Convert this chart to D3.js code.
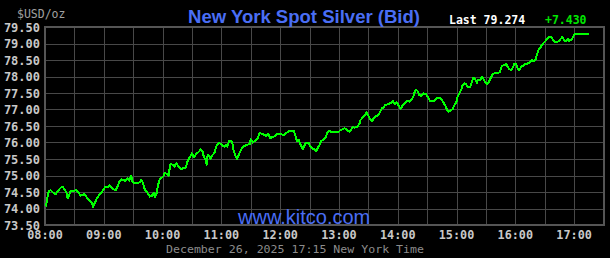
<!DOCTYPE html>
<html>
<head>
<meta charset="utf-8">
<script src="https://cdn.jsdelivr.net/npm/d3@7"></script>
<style>
    body { margin: 0; background: #000; }
    svg { display: block; }
</style>
</head>
<body>
<svg></svg>
<script>
// minutes after 08:00 and bid price
const minutes = [1, 2, 4, 6, 8, 11, 13, 16, 18, 20, 22, 23, 25, 26, 30, 32, 34, 36, 38, 40,
    42, 45, 47, 48, 49, 51, 53, 55, 58, 60, 61, 64, 66, 68, 70, 72, 74, 76, 78, 81,
    82, 84, 86, 87, 88, 89, 91, 94, 97, 98, 100, 102, 104, 106, 107, 109, 111, 112, 114, 115,
    117, 119, 121, 122, 125, 126, 128, 130, 132, 134, 136, 139, 141, 144, 145, 147, 149, 150, 152, 154,
    157, 159, 161, 162, 164, 165, 166, 168, 169, 171, 173, 175, 177, 179, 181, 183, 185, 186, 188, 191,
    192, 194, 196, 197, 199, 202, 204, 207, 209, 210, 212, 214, 217, 219, 221, 224, 226, 228, 230, 232,
    235, 237, 241, 243, 245, 247, 249, 252, 254, 256, 257, 259, 261, 263, 265, 266, 269, 271, 273, 275,
    277, 278, 280, 282, 284, 287, 288, 290, 292, 295, 299, 301, 304, 306, 308, 311, 312, 314, 316, 319,
    321, 322, 325, 327, 328, 330, 332, 334, 335, 338, 340, 342, 344, 346, 347, 350, 352, 354, 355, 357,
    359, 361, 363, 365, 367, 369, 372, 374, 376, 378, 380, 382, 384, 386, 389, 391, 393, 397, 399, 401,
    403, 405, 407, 409, 410, 412, 414, 416, 418, 420, 421, 423, 425, 426, 428, 430, 431, 434, 436, 437,
    439, 441, 442, 444, 446, 447, 449, 451, 453, 455, 457, 459, 462, 464, 466, 468, 471, 472, 474, 476,
    477, 479, 481, 482, 484, 486, 488, 490, 493, 495, 497, 499, 501, 502, 504, 506, 507, 509, 511, 512,
    515, 516, 518, 520, 523, 524, 526, 528, 530, 532, 534, 535, 537, 539, 540, 555];
const prices = [74.06, 74.26, 74.54, 74.55, 74.49, 74.43, 74.53, 74.63, 74.66, 74.58, 74.46, 74.31, 74.43, 74.53, 74.54, 74.55, 74.50, 74.39, 74.40, 74.45,
    74.36, 74.26, 74.21, 74.16, 74.04, 74.18, 74.31, 74.40, 74.50, 74.58, 74.64, 74.64, 74.71, 74.63, 74.58, 74.55, 74.67, 74.81, 74.88, 74.86,
    74.83, 74.91, 74.84, 74.93, 74.99, 74.82, 74.78, 74.78, 74.79, 74.86, 74.78, 74.56, 74.50, 74.40, 74.36, 74.38, 74.48, 74.34, 74.46, 74.66,
    74.88, 74.93, 74.98, 75.07, 75.05, 74.98, 75.35, 75.33, 75.27, 75.37, 75.29, 75.19, 75.22, 75.24, 75.40, 75.52, 75.62, 75.67, 75.55, 75.64,
    75.72, 75.79, 75.72, 75.57, 75.47, 75.32, 75.62, 75.59, 75.51, 75.62, 75.69, 75.89, 75.97, 75.97, 75.92, 75.87, 75.92, 75.87, 76.06, 76.02,
    75.82, 75.62, 75.50, 75.57, 75.72, 75.87, 75.90, 75.94, 75.95, 76.10, 76.00, 76.04, 76.13, 76.28, 76.27, 76.23, 76.20, 76.26, 76.13, 76.16,
    76.20, 76.27, 76.27, 76.21, 76.27, 76.30, 76.36, 76.35, 76.34, 76.18, 76.05, 76.08, 75.92, 75.80, 75.92, 75.99, 75.99, 75.87, 75.82, 75.79,
    75.74, 75.82, 75.92, 76.05, 76.08, 76.18, 76.30, 76.36, 76.31, 76.31, 76.31, 76.36, 76.41, 76.43, 76.38, 76.33, 76.38, 76.46, 76.45, 76.48,
    76.58, 76.68, 76.78, 76.85, 76.91, 76.81, 76.70, 76.65, 76.73, 76.80, 76.83, 76.93, 77.04, 77.07, 77.14, 77.16, 77.19, 77.22, 77.27, 77.16,
    77.22, 77.11, 77.02, 77.12, 77.19, 77.26, 77.24, 77.29, 77.41, 77.59, 77.57, 77.44, 77.41, 77.49, 77.46, 77.37, 77.26, 77.26, 77.31, 77.36,
    77.36, 77.29, 77.19, 77.09, 77.01, 76.93, 76.98, 77.01, 77.14, 77.24, 77.37, 77.49, 77.61, 77.72, 77.79, 77.76, 77.69, 77.69, 77.87, 77.96,
    77.92, 77.81, 77.91, 77.89, 77.99, 77.96, 77.84, 77.77, 77.84, 77.96, 78.07, 78.10, 78.10, 78.13, 78.30, 78.35, 78.37, 78.30, 78.22, 78.20,
    78.25, 78.38, 78.37, 78.27, 78.19, 78.30, 78.33, 78.37, 78.40, 78.44, 78.49, 78.47, 78.52, 78.67, 78.82, 78.90, 78.95, 79.02, 79.08, 79.13,
    79.20, 79.21, 79.13, 79.06, 79.06, 79.06, 79.13, 79.20, 79.08, 79.06, 79.15, 79.08, 79.11, 79.20, 79.274, 79.274];

const hourLabels = ["08:00", "09:00", "10:00", "11:00", "12:00", "13:00", "14:00", "15:00", "16:00", "17:00"];
const priceTicks = [73.5, 74, 74.5, 75, 75.5, 76, 76.5, 77, 77.5, 78, 78.5, 79, 79.5];

const titleText = "New York Spot Silver (Bid)";
const lastText = "Last 79.274";
const changeText = "+7.430";
const dateText = "December 26, 2025 17:15 New York Time";

const width = 610;
const height = 258;
const mono = "'DejaVu Sans Mono', monospace";
const sans = "'Liberation Sans', Arial, sans-serif";

const x = d3.scaleLinear().domain([0, 570]).range([45, 603.5]);
const y = d3.scaleLinear().domain([73.5, 79.5]).range([225, 27]);

const svg = d3.select("svg")
    .attr("width", width)
    .attr("height", height);

svg.append("rect")
    .attr("width", width)
    .attr("height", height)
    .attr("fill", "#000");

// grid
const grid = svg.append("g")
    .attr("stroke", "#484848")
    .attr("stroke-width", 1)
    .attr("shape-rendering", "crispEdges");

grid.selectAll("line.h")
    .data(priceTicks)
    .enter().append("line")
    .attr("class", "h")
    .attr("x1", x(0))
    .attr("x2", x(570))
    .attr("y1", function (d) { return Math.round(y(d)) + 0.5; })
    .attr("y2", function (d) { return Math.round(y(d)) + 0.5; });

grid.selectAll("line.v")
    .data(d3.range(0, 571, 30))
    .enter().append("line")
    .attr("class", "v")
    .attr("y1", y(73.5))
    .attr("y2", y(79.5))
    .attr("x1", function (d) { return Math.round(x(d)) + 0.5; })
    .attr("x2", function (d) { return Math.round(x(d)) + 0.5; });

// frame
svg.append("rect")
    .attr("x", x(0))
    .attr("y", y(79.5))
    .attr("width", x(570) - x(0))
    .attr("height", y(73.5) - y(79.5))
    .attr("fill", "none")
    .attr("stroke", "#555")
    .attr("stroke-width", 2)
    .attr("shape-rendering", "crispEdges");

// y labels
svg.append("g").selectAll("text")
    .data(priceTicks)
    .enter().append("text")
    .attr("x", 40)
    .attr("y", function (d) { return y(d) + 4.5; })
    .attr("text-anchor", "end")
    .attr("font-family", mono)
    .attr("font-weight", "bold")
    .attr("font-size", 12)
    .attr("fill", "#c8c8c8")
    .text(function (d) { return d.toFixed(2); });

// x labels
svg.append("g").selectAll("text")
    .data(hourLabels)
    .enter().append("text")
    .attr("x", function (d, i) { return x(i * 60); })
    .attr("y", 239)
    .attr("text-anchor", "middle")
    .attr("font-family", mono)
    .attr("font-weight", "bold")
    .attr("font-size", 11.8)
    .attr("fill", "#c8c8c8")
    .text(function (d) { return d; });

// headers
svg.append("text")
    .attr("x", 17).attr("y", 18)
    .attr("font-family", mono).attr("font-size", 11.5)
    .attr("fill", "#a0a0a0")
    .text("$USD/oz");

svg.append("text")
    .attr("x", 304).attr("y", 23)
    .attr("text-anchor", "middle")
    .attr("font-family", sans).attr("font-weight", "bold").attr("font-size", 19)
    .attr("textLength", 232).attr("lengthAdjust", "spacingAndGlyphs")
    .attr("fill", "#4a6ef5")
    .text(titleText);

svg.append("text")
    .attr("x", 449).attr("y", 24)
    .attr("font-family", mono).attr("font-weight", "bold").attr("font-size", 11.5)
    .attr("fill", "#fff")
    .text(lastText);

svg.append("text")
    .attr("x", 545).attr("y", 24)
    .attr("font-family", mono).attr("font-weight", "bold").attr("font-size", 11.5)
    .attr("fill", "#00e600")
    .text(changeText);

svg.append("text")
    .attr("x", 238).attr("y", 224)
    .attr("font-family", sans).attr("font-size", 20)
    .attr("fill", "#4a6ef5")
    .text("www.kitco.com");

svg.append("text")
    .attr("x", 166).attr("y", 253)
    .attr("font-family", mono).attr("font-size", 11)
    .attr("textLength", 258).attr("lengthAdjust", "spacingAndGlyphs")
    .attr("fill", "#8c8c8c")
    .text(dateText);

// price line
const line = d3.line()
    .x(function (d) { return x(d[0]); })
    .y(function (d) { return y(d[1]); });

svg.append("path")
    .datum(d3.zip(minutes, prices))
    .attr("d", line)
    .attr("fill", "none")
    .attr("stroke", "#00ff00")
    .attr("stroke-width", 2)
    .attr("stroke-linejoin", "round")
    .attr("shape-rendering", "crispEdges");
</script>
</body>
</html>
